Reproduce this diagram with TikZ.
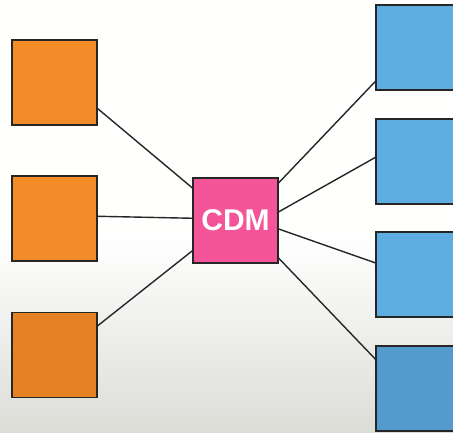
\documentclass[tikz,border=0pt]{standalone}
\usepackage{fontspec}
\setsansfont{Liberation Sans}
\usepackage{tikz}

\begin{document}
\begin{tikzpicture}[y=1pt, x=1pt, yscale=-1, inner sep=0pt, outer sep=0pt,
  box/.style={draw=black!85, line width=1.3pt, minimum width=85pt, minimum height=85pt},
  link/.style={draw=black!85, line width=1.4pt}]
\definecolor{og}{RGB}{242,140,40}
\definecolor{ogd}{RGB}{230,130,38}
\definecolor{bl}{RGB}{93,173,224}
\definecolor{bld}{RGB}{84,155,205}
\definecolor{pk}{RGB}{243,85,152}
\definecolor{bgd}{RGB}{220,220,215}
\clip (0,0) rectangle (453,433);
\fill [white!99!bgd] (0,0) rectangle (453,240);
\path [top color=white!99!bgd, bottom color=bgd] (0,239) rectangle (453,433);
% sources
\node [box, fill=og] (o1) at (54.5,82.5) {};
\node [box, fill=og] (o2) at (54.5,218.5) {};
\node [box, fill=ogd] (o3) at (54.5,355) {};
% hub
\node [box, fill=pk, text=white, font=\sffamily\bfseries\fontsize{30}{30}\selectfont] (cdm) at (235.5,220.5) {CDM};
% targets
\node [box, fill=bl] (b1) at (418.5,47.5) {};
\node [box, fill=bl] (b2) at (418.5,161.5) {};
\node [box, fill=bl] (b3) at (418.5,274.5) {};
\node [box, fill=bld] (b4) at (418.5,388.5) {};
\draw [link] (o1.-31) -- (cdm.143);
\draw [link] (o2.3) -- (cdm.177);
\draw [link] (o3.34) -- (cdm.215);
\draw [link] (cdm.41) -- (b1.218);
\draw [link] (cdm.11) -- (b2.174);
\draw [link] (cdm.-11) -- (b3.165);
\draw [link] (cdm.-41) -- (b4.146);
\end{tikzpicture}
\end{document}
